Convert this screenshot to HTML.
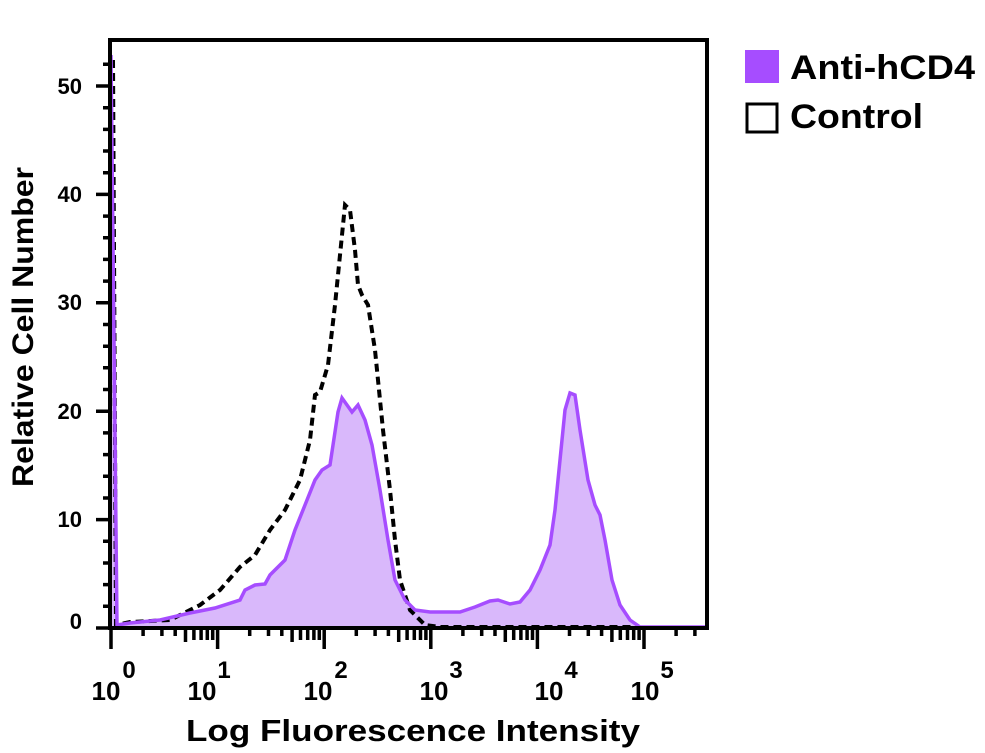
<!DOCTYPE html>
<html><head><meta charset="utf-8"><style>body{margin:0;background:#fff}svg{display:block}text{font-family:"Liberation Sans",sans-serif;font-weight:bold;fill:#000}</style></head>
<body>
<svg width="985" height="753" viewBox="0 0 985 753">
<defs>
<path id="dec" d="M0,0 v21 M32.1,0 v8 M50.9,0 v8 M64.2,0 v8 M74.5,0 v14 M82.9,0 v12 M90.1,0 v12 M96.3,0 v12 M101.7,0 v12" stroke="#000" stroke-width="3.5" fill="none"/>
</defs>
<path d="M111,628 L111,55 L117,625 L130,623 L160,620 L190,613 L215,608 L240,600 L245,590 L255,585 L265,584 L270,575 L285,560 L295,530 L305,505 L315,480 L322,470 L330,465 L338,412 L342,398 L347,405 L352,412 L358,405 L365,420 L372,445 L380,490 L388,540 L395,580 L405,600 L415,610 L430,612 L460,612 L475,607 L490,601 L498,600 L510,604 L520,602 L530,590 L540,570 L550,545 L555,510 L560,460 L565,410 L570,393 L575,395 L580,430 L588,480 L595,505 L600,515 L605,540 L612,580 L620,605 L630,620 L640,627 L707,627 L707,628 Z" fill="#d9b8fb"/>
<path d="M113,60 L116,625 L130,622 L170,620 L200,605 L220,590 L240,567 L255,555 L270,530 L285,510 L300,480 L310,440 L315,395 L320,392 L328,365 L335,305 L340,255 L345,205 L350,210 L355,250 L358,285 L362,295 L368,305 L375,350 L383,430 L390,490 L395,540 L400,580 L410,610 L425,625 L440,627 L640,627" fill="none" stroke="#000" stroke-width="4" stroke-dasharray="8,5"/>
<path d="M111,55 L117,625 L130,623 L160,620 L190,613 L215,608 L240,600 L245,590 L255,585 L265,584 L270,575 L285,560 L295,530 L305,505 L315,480 L322,470 L330,465 L338,412 L342,398 L347,405 L352,412 L358,405 L365,420 L372,445 L380,490 L388,540 L395,580 L405,600 L415,610 L430,612 L460,612 L475,607 L490,601 L498,600 L510,604 L520,602 L530,590 L540,570 L550,545 L555,510 L560,460 L565,410 L570,393 L575,395 L580,430 L588,480 L595,505 L600,515 L605,540 L612,580 L620,605 L630,620 L640,627 L707,627" fill="none" stroke="#a64dff" stroke-width="3.5"/>
<rect x="110" y="40" width="597" height="588" fill="none" stroke="#000" stroke-width="4"/>
<path stroke="#000" stroke-width="3.5" fill="none" d="M96,628h14 M103,606.3h7 M103,584.6h7 M103,563h7 M103,541.3h7 M96,519.6h14 M103,498h7 M103,476.2h7 M103,454.6h7 M103,432.9h7 M96,411.2h14 M103,389.5h7 M103,367.8h7 M103,346.2h7 M103,324.5h7 M96,302.8h14 M103,281.1h7 M103,259.4h7 M103,237.8h7 M103,216.1h7 M96,194.4h14 M103,172.7h7 M103,151h7 M103,129.4h7 M103,107.7h7 M96,86h14 M103,64.3h7"/>
<use href="#dec" x="111" y="628"/>
<use href="#dec" x="217.6" y="628"/>
<use href="#dec" x="324.2" y="628"/>
<use href="#dec" x="430.8" y="628"/>
<use href="#dec" x="537.4" y="628"/>
<path d="M644,628 v21 M676.1,628 v8 M694.9,628 v8" stroke="#000" stroke-width="3.5"/>
<g font-size="22" text-anchor="end">
<text x="82" y="629">0</text><text x="82" y="527">10</text><text x="82" y="419">20</text><text x="82" y="310">30</text><text x="82" y="202">40</text><text x="82" y="94">50</text>
</g>
<g font-size="26" text-anchor="middle">
<text x="106" y="700">10</text><text x="129" y="678" font-size="24">0</text>
<text x="202" y="700">10</text><text x="224" y="678" font-size="24">1</text>
<text x="318" y="700">10</text><text x="341" y="678" font-size="24">2</text>
<text x="434" y="700">10</text><text x="456" y="678" font-size="24">3</text>
<text x="549" y="700">10</text><text x="571" y="678" font-size="24">4</text>
<text x="645" y="700">10</text><text x="667" y="678" font-size="24">5</text>
</g>
<text x="186" y="741" font-size="31" textLength="454" lengthAdjust="spacingAndGlyphs">Log Fluorescence Intensity</text>
<text transform="translate(33,487) rotate(-90)" font-size="30" textLength="320" lengthAdjust="spacingAndGlyphs">Relative Cell Number</text>
<rect x="745" y="50" width="34" height="33" fill="#a64dff"/>
<text x="790" y="79" font-size="34" textLength="185" lengthAdjust="spacingAndGlyphs">Anti-hCD4</text>
<rect x="747" y="104" width="30" height="28" fill="none" stroke="#000" stroke-width="3"/>
<text x="790" y="128" font-size="34" textLength="133" lengthAdjust="spacingAndGlyphs">Control</text>
</svg>
</body></html>
